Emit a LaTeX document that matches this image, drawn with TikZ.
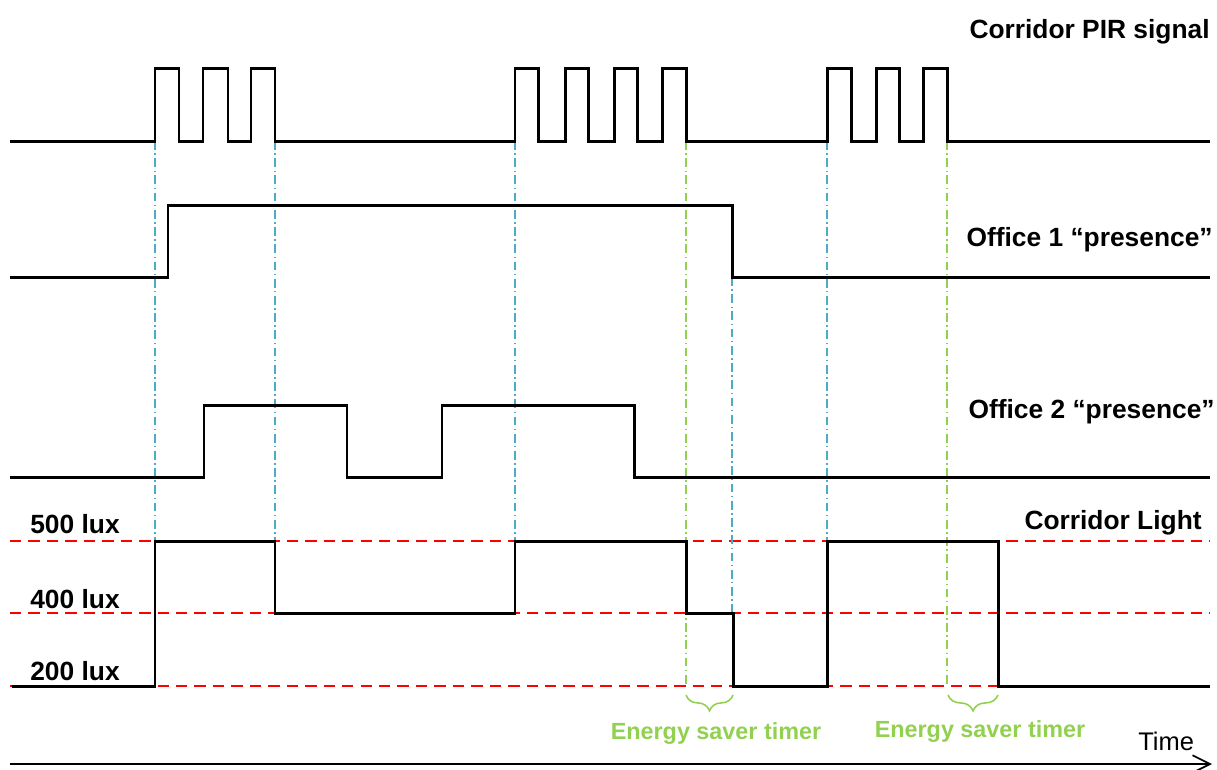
\documentclass[tikz,border=0pt]{standalone}
\usepackage{fontspec}
\setmainfont{Liberation Sans}
\usetikzlibrary{arrows.meta,decorations.pathreplacing}
\definecolor{guideblue}{RGB}{75,172,198}
\definecolor{timergreen}{RGB}{146,208,80}

\begin{document}
\begin{tikzpicture}[
  x=0.02cm, y=-0.02cm,
  wave/.style={line width=1.7pt, line join=miter, black},
  level/.style={red, line width=0.7pt, dash pattern=on 6.5pt off 4pt},
  trigger/.style={guideblue, line width=0.75pt, dash pattern=on 5pt off 2pt on 0.8pt off 2pt},
  expiry/.style={timergreen, line width=0.75pt, dash pattern=on 5pt off 2pt on 0.8pt off 2pt},
  signame/.style={font=\fontsize{15}{18}\selectfont\bfseries, anchor=base east, inner sep=0pt},
  luxname/.style={font=\fontsize{15}{18}\selectfont\bfseries, anchor=base, inner sep=0pt},
  timer/.style={font=\fontsize{13.3}{16}\selectfont\bfseries, text=timergreen, anchor=base, inner sep=0pt},
  brace/.style={timergreen, line width=0.9pt, decorate,
                decoration={brace, mirror, amplitude=9pt}},
  axis/.style={-{Straight Barb[length=3.5mm, width=3.5mm]}, line width=1pt},
]
  \useasboundingbox (0,0) rectangle (1217,769);

  % lux levels
  \draw[level] (10,541) -- (1210,541);
  \draw[level] (10,613) -- (1210,613);
  \draw[level] (10,686) -- (1210,686);

  % guides at the PIR edges
  \draw[trigger] (155,141) -- (155,545);
  \draw[trigger] (275,141) -- (275,541);
  \draw[trigger] (515,141) -- (515,541);
  \draw[trigger] (732,277) -- (732,613);
  \draw[trigger] (827,141) -- (827,541);
  \draw[expiry] (686,141) -- (686,686);
  \draw[expiry] (947,141) -- (947,686);

  % corridor PIR signal
  \draw[wave] (10,141) -- (155,141) -- (155,68) -- (179,68) -- (179,141)
    -- (203,141) -- (203,68) -- (228,68) -- (228,141)
    -- (251,141) -- (251,68) -- (275,68) -- (275,141)
    -- (515,141) -- (515,68) -- (538,68) -- (538,141)
    -- (565,141) -- (565,68) -- (588,68) -- (588,141)
    -- (614,141) -- (614,68) -- (637,68) -- (637,141)
    -- (662,141) -- (662,68) -- (686,68) -- (686,141)
    -- (827,141) -- (827,68) -- (851,68) -- (851,141)
    -- (876,141) -- (876,68) -- (899,68) -- (899,141)
    -- (923,141) -- (923,68) -- (947,68) -- (947,141) -- (1210,141);

  % office 1
  \draw[wave] (10,277) -- (168,277) -- (168,205) -- (732,205) -- (732,277) -- (1210,277);

  % office 2
  \draw[wave] (10,477) -- (204,477) -- (204,405) -- (347,405) -- (347,477)
    -- (442,477) -- (442,405) -- (634,405) -- (634,477) -- (1210,477);

  % corridor light
  \draw[wave] (12,686) -- (155,686) -- (155,541) -- (275,541) -- (275,613)
    -- (515,613) -- (515,541) -- (686,541) -- (686,613) -- (733,613)
    -- (733,686) -- (827,686) -- (827,541) -- (998,541) -- (998,686) -- (1210,686);

  \node[signame] (pir) at (1210,38) {Corridor PIR signal};
  \node[signame] (off1) at (1213,246) {Office 1 “presence”};
  \node[signame] (off2) at (1215,418) {Office 2 “presence”};
  \node[signame] (light) at (1202,529) {Corridor Light};

  \node[luxname] (lux500) at (75,533) {500 lux};
  \node[luxname] (lux400) at (75,608) {400 lux};
  \node[luxname] (lux200) at (75,680) {200 lux};

  % timers
  \draw[brace] (686,695) -- (733,695);
  \draw[brace] (948,695) -- (998,695);
  \node[timer] (timer1) at (716,739) {Energy saver timer};
  \node[timer] (timer2) at (980,737) {Energy saver timer};

  % time axis
  \coordinate (t0) at (10,764);
  \coordinate (t1) at (1212,764);
  \draw[axis] (t0) -- (t1);
  \node[font=\fontsize{14.5}{17}\selectfont, anchor=base west, inner sep=0pt] (time) at (1138,750) {Time};
\end{tikzpicture}
\end{document}
